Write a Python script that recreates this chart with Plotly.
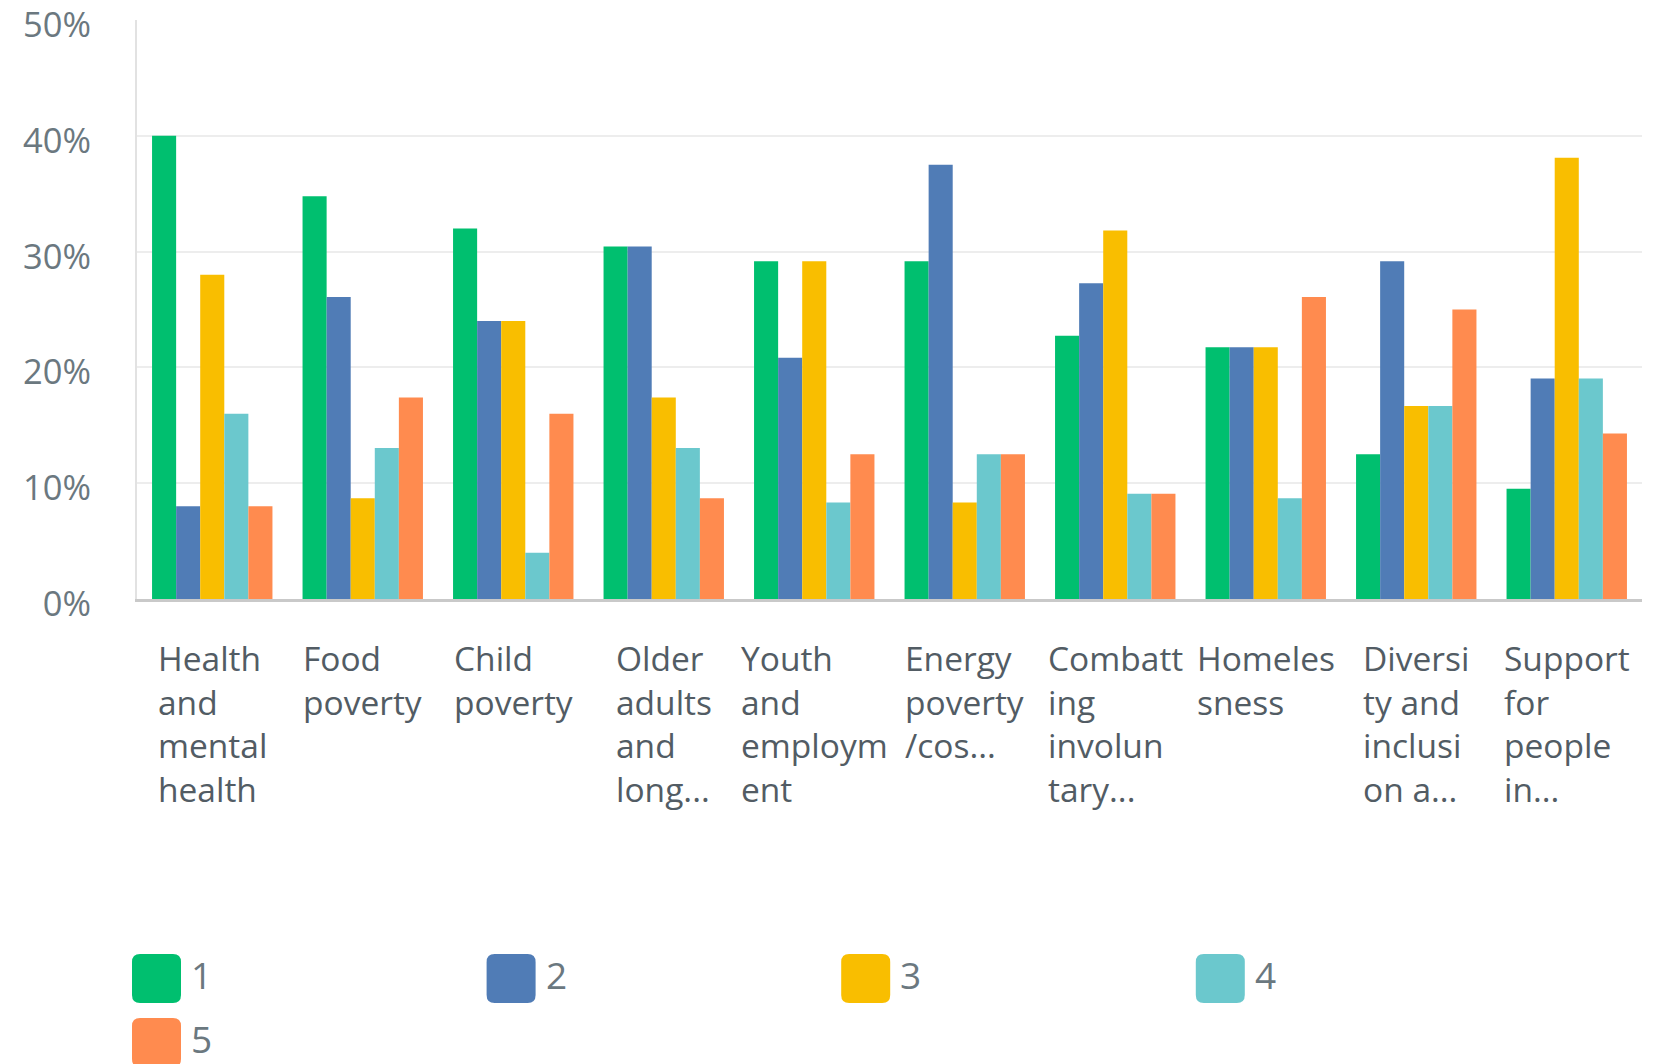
import plotly.graph_objects as go

# ---------------- data ----------------
categories = ["Health and mental health", "Food poverty", "Child poverty",
              "Older adults and long...", "Youth and employment",
              "Energy poverty/cos...", "Combatting involuntary...",
              "Homelessness", "Diversity and inclusion a...", "Support for people in..."]

tick_labels = ["Health<br>and<br>mental<br>health",
               "Food<br>poverty",
               "Child<br>poverty",
               "Older<br>adults<br>and<br>long...",
               "Youth<br>and<br>employm<br>ent",
               "Energy<br>poverty<br>/cos...",
               "Combatt<br>ing<br>involun<br>tary...",
               "Homeles<br>sness",
               "Diversi<br>ty and<br>inclusi<br>on a...",
               "Support<br>for<br>people<br>in..."]

series_names = ["1", "2", "3", "4", "5"]

s1 = [40.00, 34.78, 32.00, 30.43, 29.17, 29.17, 22.73, 21.74, 12.50, 9.52]
s2 = [8.00, 26.09, 24.00, 30.43, 20.83, 37.50, 27.27, 21.74, 29.17, 19.05]
s3 = [28.00, 8.70, 24.00, 17.39, 29.17, 8.33, 31.82, 21.74, 16.67, 38.10]
s4 = [16.00, 13.04, 4.00, 13.04, 8.33, 12.50, 9.09, 8.70, 16.67, 19.05]
s5 = [8.00, 17.39, 16.00, 8.70, 12.50, 12.50, 9.09, 26.09, 25.00, 14.29]

series_values = [s1, s2, s3, s4, s5]
colors = ["#00BF6F", "#507CB6", "#F9BE00", "#6BC8CD", "#FF8B4F"]

y_ticks = [0, 10, 20, 30, 40, 50]
y_tick_text = ["0%", "10%", "20%", "30%", "40%", "50%"]

# ---------------- layout constants (pixels) ----------------
W, H = 1658, 1064
ML, MR, MT, MB = 137, 16, 20, 465
PW = W - ML - MR
PH = H - MT - MB
FONT = "Open Sans"

def px_x(px):
    return (px - ML) / PW

def px_y(py):
    return (H - MB - py) / PH

fig = go.Figure()
for name, vals, col in zip(series_names, series_values, colors):
    fig.add_trace(go.Bar(name=name, x=categories, y=vals,
                         marker=dict(color=col, line=dict(width=0)),
                         showlegend=False, hoverinfo="skip"))

# category labels (centered block, left-aligned lines)
annotations = []
for cat, lab in zip(categories, tick_labels):
    annotations.append(dict(x=cat, xref="x", y=0, yref="paper", yanchor="top",
                            xanchor="center", align="left", text=lab, showarrow=False,
                            yshift=-34,
                            font=dict(family=FONT, size=33.5, color="#525C64")))

# custom legend: rounded swatches + labels
def rounded_rect(w, h, r):
    return (f"M {r},0 L {w-r},0 Q {w},0 {w},{r} L {w},{h-r} Q {w},{h} {w-r},{h} "
            f"L {r},{h} Q 0,{h} 0,{h-r} L 0,{r} Q 0,0 {r},0 Z")

shapes = []
sw = 49
col_step = 354.6
row_step = 64
for i, (name, col) in enumerate(zip(series_names, colors)):
    c, r = i % 4, i // 4
    x_left = 132 + c * col_step
    y_bottom = 1003 + r * row_step
    shapes.append(dict(type="path", xref="paper", yref="paper",
                       xsizemode="pixel", ysizemode="pixel",
                       xanchor=px_x(x_left), yanchor=px_y(y_bottom),
                       path=rounded_rect(sw, sw, 8),
                       fillcolor=col, line=dict(width=0), layer="above"))
    annotations.append(dict(x=px_x(x_left + sw + 8), xref="paper",
                            y=px_y(y_bottom - sw / 2 - 4), yref="paper",
                            xanchor="left", yanchor="middle", text=name,
                            showarrow=False,
                            font=dict(family=FONT, size=37, color="#6B787F")))

fig.update_layout(
    width=W, height=H,
    margin=dict(l=ML, r=MR, t=MT, b=MB, autoexpand=False),
    paper_bgcolor="white", plot_bgcolor="white",
    barmode="group", bargap=0.2, bargroupgap=0,
    font=dict(family=FONT, color="#6B787F"),
    showlegend=False,
    annotations=annotations,
    shapes=shapes,
)
fig.update_xaxes(showticklabels=False, showgrid=False, showline=True,
                 linecolor="#C9C9C9", linewidth=2.5, zeroline=False, ticks="",
                 automargin=False)
fig.update_yaxes(range=[0, 50], tickmode="array", tickvals=y_ticks, ticktext=y_tick_text,
                 showgrid=True, gridcolor="#EDEDED", gridwidth=2,
                 showline=True, linecolor="#E2E2E2", linewidth=2,
                 zeroline=False, ticks="outside", ticklen=37, tickcolor="rgba(0,0,0,0)",
                 automargin=False, ticklabeloverflow="allow", ticklabelshift=5,
                 tickfont=dict(family=FONT, size=34.5, color="#6B787F"))

fig.write_html("out.html", config={"displayModeBar": False},
               post_script="document.body.style.margin='0px';document.body.style.overflow='hidden';")
